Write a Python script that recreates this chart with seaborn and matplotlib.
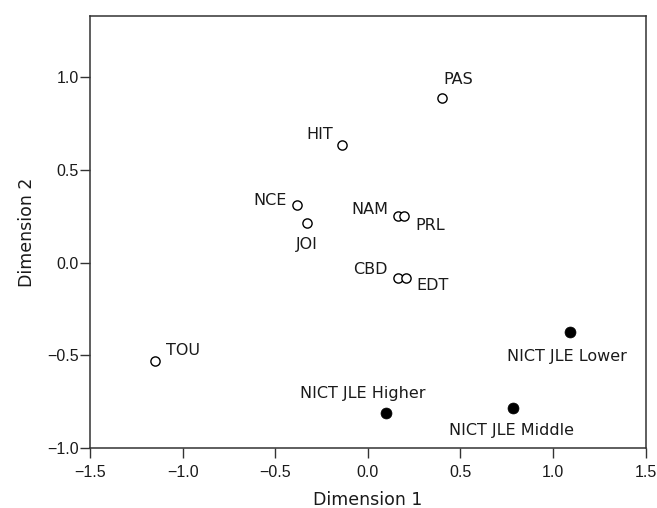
import matplotlib
matplotlib.use("Agg")
import matplotlib.pyplot as plt
import seaborn as sns
import pandas as pd

# ---- data ----
labels = ["PAS", "HIT", "NCE", "JOI", "NAM", "PRL", "CBD", "EDT", "TOU",
          "NICT JLE Higher", "NICT JLE Middle", "NICT JLE Lower"]
dim1 = [0.40, -0.14, -0.38, -0.33, 0.166, 0.195, 0.166, 0.206, -1.15,
        0.10, 0.785, 1.09]
dim2 = [0.888, 0.632, 0.31, 0.215, 0.25, 0.25, -0.084, -0.084, -0.53,
        -0.81, -0.785, -0.375]
group = ["text"] * 9 + ["NICT JLE"] * 3

x_ticks = [-1.5, -1.0, -0.5, 0.0, 0.5, 1.0, 1.5]
y_ticks = [-1.0, -0.5, 0.0, 0.5, 1.0]

df = pd.DataFrame({"label": labels, "Dimension 1": dim1,
                   "Dimension 2": dim2, "group": group})

# label placement: (dx, dy in points, ha, va)
placement = {
    "PAS": (1, 13, "left", "center"),
    "HIT": (-6.3, 7.5, "right", "center"),
    "NCE": (-7.5, 3, "right", "center"),
    "JOI": (0, -16, "center", "center"),
    "NAM": (-7.5, 5, "right", "center"),
    "PRL": (8, -7, "left", "center"),
    "CBD": (-7.5, 6.5, "right", "center"),
    "EDT": (7.7, -5.5, "left", "center"),
    "TOU": (8.2, 7.2, "left", "center"),
    "NICT JLE Higher": (-16.8, 14.4, "center", "center"),
    "NICT JLE Middle": (-1, -16, "center", "center"),
    "NICT JLE Lower": (-2, -17.3, "center", "center"),
}

sns.set_style("ticks")
plt.rcParams["font.family"] = ["DejaVu Sans"]

fig = plt.figure(figsize=(6.57, 5.08), dpi=100)
ax = fig.add_axes([90 / 657, 1 - 448.3 / 508, (645.5 - 90) / 657, (448.3 - 16) / 508])

open_df = df[df["group"] == "text"]
fill_df = df[df["group"] == "NICT JLE"]
sns.scatterplot(data=open_df, x="Dimension 1", y="Dimension 2", ax=ax,
                marker="o", s=44, facecolor="white", edgecolor="black",
                linewidth=1.0, zorder=3)
sns.scatterplot(data=fill_df, x="Dimension 1", y="Dimension 2", ax=ax,
                marker="o", s=62, color="black", edgecolor="black",
                linewidth=0.5, zorder=3)

for lab, x, y in zip(labels, dim1, dim2):
    dx, dy, ha, va = placement[lab]
    ax.annotate(lab, (x, y), xytext=(dx, dy), textcoords="offset points",
                ha=ha, va=va, fontsize=11.5, color="#1a1a1a")

ax.set_xlim(-1.5, 1.5)
ax.set_ylim(-1.0, 1.327)
ax.set_xticks(x_ticks)
ax.set_yticks(y_ticks)
ax.set_xticklabels([f"{v:.1f}".replace("-", "\u2212") for v in x_ticks])
ax.set_yticklabels([f"{v:.1f}".replace("-", "\u2212") for v in y_ticks])
ax.tick_params(axis="both", direction="out", length=7, width=1.0,
               color="#333333", labelsize=11.5, labelcolor="#1a1a1a")
ax.tick_params(axis="y", pad=1)
ax.tick_params(axis="x", pad=5)
for t in ax.get_xticklabels() + ax.get_yticklabels():
    t.set_fontfamily(["Liberation Sans", "DejaVu Sans"])
for sp in ax.spines.values():
    sp.set_visible(True)
    sp.set_linewidth(1.1)
    sp.set_color("#333333")

ax.set_xlabel("Dimension 1", fontsize=12.5, color="#1a1a1a", labelpad=8)
ax.set_ylabel("Dimension 2", fontsize=12.5, color="#1a1a1a", labelpad=8)
ax.grid(False)

fig.savefig("out.png", dpi=100)
